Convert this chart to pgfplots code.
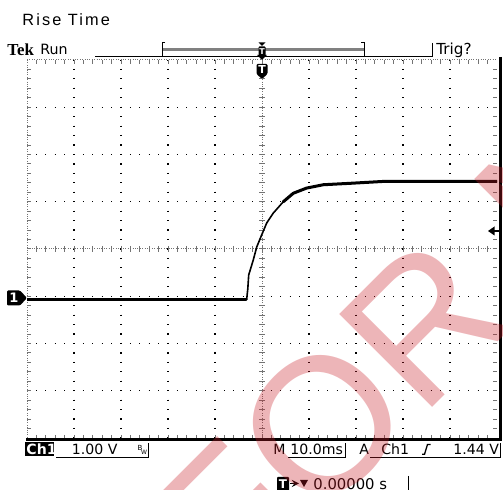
\documentclass[border=0pt]{standalone}
\usepackage{pgfplots}
\pgfplotsset{compat=1.18}
\usepackage{fontspec}
\setmainfont{DejaVu Sans}
\newfontfamily\arialfont{Liberation Sans}
\newfontfamily\titlefont[LetterSpace=13]{Liberation Sans}
\newfontfamily\tekfont{Liberation Serif}
\definecolor{wm}{RGB}{200,30,40}
\definecolor{gridgray}{RGB}{115,115,115}
\begin{document}
\begin{tikzpicture}
\useasboundingbox (0,0) rectangle (251.5pt,245pt);
% ---------- graticule (pixel coordinates, y downwards) ----------
\begin{scope}[shift={(0,245pt)}, x=0.5pt, y=-0.5pt]
  % main dotted grid lines
  \foreach \k in {1,2,3,4,6,7,8,9}{
    \draw[line width=0.6pt, dash pattern=on 0.6pt off 4.125pt, dash phase=0.3pt]
      ({27+47*\k},60) -- ({27+47*\k},438);
  }
  \foreach \k in {1,2,3,5,6,7}{
    \draw[line width=0.6pt, dash pattern=on 0.6pt off 4.1pt, dash phase=0.3pt]
      (27,{60+47.25*\k}) -- (497,{60+47.25*\k});
  }
  % centre lines
  \draw[gridgray, line width=0.5pt, dash pattern=on 0.5pt off 0.7pt] (262,60) -- (262,438);
  \draw[gridgray, line width=0.5pt, dash pattern=on 0.5pt off 0.7pt] (27,249) -- (497,249);
  \foreach \i in {1,...,39}{
    \draw[gridgray, line width=0.5pt] (259,{60+9.45*\i}) -- (265,{60+9.45*\i});
  }
  \foreach \i in {1,...,49}{
    \draw[gridgray, line width=0.5pt] ({27+9.4*\i},246) -- ({27+9.4*\i},252);
  }
  % top and left borders
  \draw[gridgray, line width=0.5pt, dash pattern=on 0.5pt off 0.7pt] (27,60) -- (497,60);
  \draw[gridgray, line width=0.5pt, dash pattern=on 0.5pt off 0.7pt] (27,60) -- (27,438);
  \foreach \i in {1,...,49}{
    \draw[gridgray, line width=0.5pt] ({27+9.4*\i},60) -- ({27+9.4*\i},64);
    \draw[gridgray, line width=0.5pt] ({27+9.4*\i},435) -- ({27+9.4*\i},439);
  }
  \foreach \i in {1,...,39}{
    \draw[gridgray, line width=0.5pt] (27,{60+9.45*\i}) -- (31,{60+9.45*\i});
    \draw[gridgray, line width=0.5pt] (493,{60+9.45*\i}) -- (497,{60+9.45*\i});
  }
\end{scope}
% ---------- trace ----------
\begin{axis}[at={(13.5pt,26pt)}, anchor=south west, width=235pt, height=189pt,
  scale only axis, xmin=-50, xmax=50, ymin=-2.96, ymax=5.04, hide axis, clip=true]
\addplot[black, line width=0.8pt, line join=round] coordinates {
  (-50,-0.025) (-3.26,-0.025) (-3.02,0.20) (-2.83,0.49) (-1.85,0.81)
  (-1.13,1.08) (-0.06,1.34) (1.00,1.59) (2.40,1.80) (4.53,2.04)
  (6.66,2.22) (9.51,2.33) (13.04,2.40) (18.72,2.43) (25.81,2.47)
  (32.91,2.47) (50,2.47)};
\addplot[black, line width=1.7pt, line cap=round] coordinates {
  (-50,-0.025) (-3.4,-0.025)};
\addplot[black, line width=1.5pt, line cap=round, line join=round] coordinates {
  (4.53,2.04) (6.66,2.22) (9.51,2.33) (13.04,2.40) (18.72,2.43) (25.81,2.47)
  (32.91,2.47) (50,2.47)};
\end{axis}
% ---------- frame, indicators and read-outs ----------
\begin{scope}[shift={(0,245pt)}, x=0.5pt, y=-0.5pt]
  \draw[black, line width=1.2pt] (26,439.6) -- (501,439.6);
  \draw[black, line width=1.5pt] (500.3,57) -- (500.3,441);
  % title
  \node[anchor=base west, inner sep=0pt, font=\titlefont\fontsize{8.15pt}{9pt}\selectfont] at (22,25.5) {Rise Time};
  % top row
  \node[anchor=base west, inner sep=0pt, font=\tekfont\bfseries\fontsize{8.4pt}{9pt}\selectfont] at (7,55.5) {Tek};
  \node[anchor=base west, inner sep=0pt, font=\fontsize{7.1pt}{8pt}\selectfont] at (40,55) {Run};
  \node[anchor=base west, inner sep=0pt, font=\fontsize{7.6pt}{8pt}\selectfont] at (436,55) {Trig?};
  \draw[line width=0.5pt] (95,56.5) -- (432,56.5);
  \draw[line width=0.5pt] (432,43) -- (432,57);
  \draw[gray, line width=1.1pt] (162,49.5) -- (364,49.5);
  \draw[line width=0.5pt] (165,43) -- (162,43) -- (162,56.5) -- (165,56.5);
  \draw[line width=0.5pt] (361,43) -- (364,43) -- (364,56.5) -- (361,56.5);
  \fill (258.5,42.5) -- (265.5,42.5) -- (262,46) -- cycle;
  \fill[rounded corners=0.4pt] (258.5,46.5) rectangle (265.5,56.5);
  \node[white, inner sep=0pt, font=\bfseries\fontsize{4pt}{4pt}\selectfont] at (262,51.5) {T};
  % trigger position marker
  \fill (257,55) -- (267,55) -- (262,60) -- cycle;
  \fill[rounded corners=0.6pt] (256.5,64) -- (267.5,64) -- (267.5,74) -- (262,79) -- (256.5,74) -- cycle;
  \node[white, inner sep=0pt, font=\bfseries\fontsize{5.5pt}{6pt}\selectfont] at (262,70) {T};
  % ground marker
  \fill[rounded corners=0.6pt] (7,290.5) -- (20,290.5) -- (27,298) -- (20,305.5) -- (7,305.5) -- cycle;
  \node[white, inner sep=0pt, font=\bfseries\fontsize{6.5pt}{7pt}\selectfont] at (14,298) {1};
  % trigger level arrow
  \fill (488,231) -- (494.5,226.5) -- (494.5,235.5) -- cycle;
  \draw[line width=1pt] (494,231) -- (499,231);
  % bottom status line
  \fill (25,442.5) rectangle (53.5,456);
  \node[white, anchor=base west, inner sep=0pt, font=\bfseries\fontsize{7.05pt}{8pt}\selectfont] at (26,454.3) {Ch1};
  \node[anchor=base west, inner sep=0pt, font=\fontsize{7.05pt}{8pt}\selectfont] at (71.5,454.3) {1.00 V};
  \draw[line width=0.5pt] (56,457.5) -- (148,457.5) -- (148,443);
  \node[inner sep=0pt, font=\fontsize{3.5pt}{4pt}\selectfont] at (140,447.5) {B};
  \node[inner sep=0pt, font=\fontsize{3pt}{4pt}\selectfont] at (144,452) {W};
  \node[anchor=base west, inner sep=0pt, font=\fontsize{7.05pt}{8pt}\selectfont] at (273,454.3) {M};
  \node[anchor=base west, inner sep=0pt, font=\fontsize{7.05pt}{8pt}\selectfont] at (290,454.3) {10.0ms};
  \draw[line width=0.5pt] (288,457.5) -- (345,457.5) -- (345,443);
  \node[anchor=base west, inner sep=0pt, font=\fontsize{7.05pt}{8pt}\selectfont] at (359,454.3) {A};
  \node[anchor=base west, inner sep=0pt, font=\fontsize{7.05pt}{8pt}\selectfont] at (381,454.3) {Ch1};
  \draw[line width=0.65pt] (422,454.3) -- (424.5,454.3) -- (427.5,444.5) -- (430.5,444.5);
  \node[anchor=base west, inner sep=0pt, font=\fontsize{7.05pt}{8pt}\selectfont] at (453,454.3) {1.44 V};
  \draw[line width=0.5pt] (370,457.5) -- (500,457.5) -- (500,443);
  % bottom row
  \fill[rounded corners=0.5pt] (277,477) rectangle (289,491);
  \node[white, inner sep=0pt, font=\bfseries\fontsize{6pt}{6pt}\selectfont] at (283,484) {T};
  \draw[line width=0.6pt, -stealth] (290,483.5) -- (299,483.5);
  \fill (300,480) -- (308,480) -- (304,487) -- cycle;
  \node[anchor=base west, inner sep=0pt, font=\fontsize{7.4pt}{8pt}\selectfont] at (313,489.5) {0.00000 s};
  \draw[line width=0.5pt] (408,476) -- (408,490);
\end{scope}
% ---------- watermark ----------
\begin{scope}
  \clip (0,0) rectangle (251.5pt,245pt);
  \node[rotate=45, anchor=base west, inner sep=0pt, text=wm, text opacity=0.33,
        font=\arialfont\fontsize{95.5pt}{96pt}\selectfont] at (116.7pt,-58.3pt) {FOR NEW};
\end{scope}
\end{tikzpicture}
\end{document}
